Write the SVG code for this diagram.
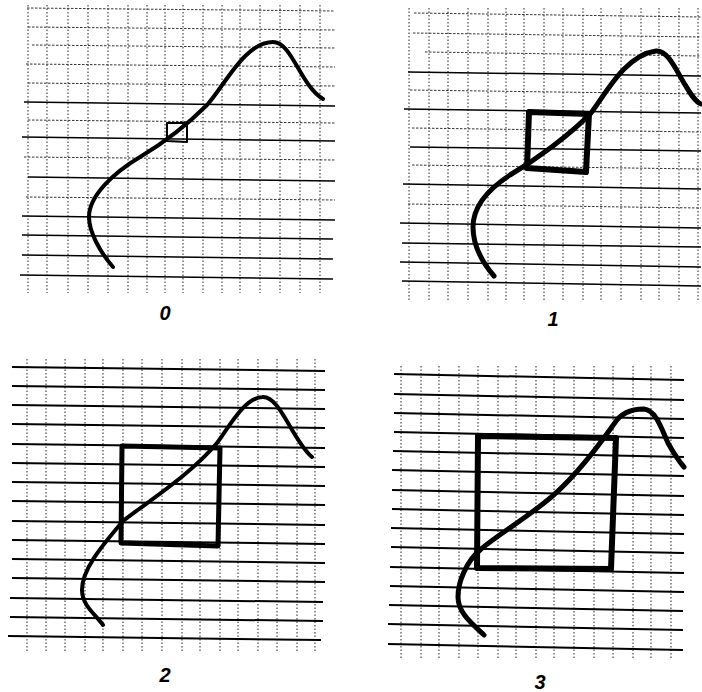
<svg xmlns="http://www.w3.org/2000/svg" width="702" height="692" viewBox="0 0 702 692">
<style>
.v{stroke:#222;stroke-width:1;stroke-dasharray:1.5 2;fill:none}
.hd{stroke:#333;stroke-width:1;stroke-dasharray:2.5 1.5;fill:none}
.h{stroke:#000;stroke-width:1.5;fill:none}
.h2{stroke:#000;stroke-width:2;fill:none}
.c{stroke:#000;fill:none;stroke-linecap:round;stroke-linejoin:round}
.sq{stroke:#000;fill:none;stroke-linejoin:round}
.lbl{font-family:"Liberation Sans",Arial,sans-serif;font-style:italic;font-weight:bold;font-size:20px;fill:#000;text-anchor:middle}
</style>
<rect width="702" height="692" fill="#fff"/>

<g id="panel0">
<path class="v" d="M28,5V293M47,5V293M68,5V293M88,5V293M108,5V293M128,5V293M147,5V293M165,5V293M183,5V293M203,5V293M222,5V293M240,5V293M260,5V293M280,5V293M300,5V293M320,5V293"/>
<path class="hd" d="M27,8L335,11M28,27L335,30M32,45L335,48M26,64L335,67M28,83L335,86M28,120L335,123M24,157L335,160M26,197L335,200"/>
<path class="h" d="M24,102L335,106M22,137L335,141M28,177L335,181M22,216L335,220M22,235L333,239M22,255L333,259M20,275L333,279"/>
<path class="c" stroke-width="4" d="M113,267C100,252 89,232 89,217C89,195 115,172 140,157C165,142 190,122 207,105C225,85 245,42 273,42C292,42 300,85 323,99"/>
<path class="sq" stroke-width="2" d="M167,123L187,123L187,142L167,141Z"/>
<text class="lbl" x="165" y="320">0</text>
</g>

<g id="panel1">
<path class="v" d="M409,8V300M429,8V300M448,8V300M468,8V300M488,8V300M506,8V300M524,8V300M544,8V300M563,8V300M583,8V300M601,8V300M621,8V300M641,8V300M659,8V300M679,8V300M698,8V300"/>
<path class="hd" d="M414,13L701,17M413,33L701,37M425,52L701,56M410,90L701,94M412,128L701,132M412,165L701,169M408,204L701,208"/>
<path class="h" d="M408,72L701,76M404,109L701,113M410,147L701,151M403,184L701,189M400,223L701,228M402,243L701,247M400,262L701,267M402,281L701,286"/>
<path class="c" stroke-width="5" d="M494,276C482,262 473,245 473,227C473,205 490,188 510,175C535,160 570,135 591,113C605,95 625,55 656,51C668,50 676,70 684,83C690,93 695,102 701,104"/>
<path class="sq" stroke-width="6" d="M529,112L589,114L586,172L527,168Z"/>
<text class="lbl" x="553" y="326">1</text>
</g>

<g id="panel2">
<path class="v" d="M27,359V653M46,359V653M65,359V653M85,359V653M103,359V653M123,359V653M142,359V653M162,359V653M182,359V653M200,359V653M220,359V653M238,359V653M258,359V653M277,359V653M297,359V653M315,359V653"/>
<path class="h2" d="M12,367L325,371M12,386L325,390M12,405L325,409M12,424L325,428M12,444L325,448M12,463L325,467M12,482L325,486M12,501L325,505M12,521L325,525M12,540L325,544M12,559L325,563M12,578L325,582M10,598L323,602M10,617L323,621M8,636L321,640"/>
<path class="c" stroke-width="4" d="M103,625C95,614 82,605 82,590C82,570 100,548 123,521C150,500 190,475 217,443C230,425 245,398 262,397C280,395 292,440 312,457"/>
<path class="sq" stroke-width="5" d="M122,446L220,448L218,546L121,543Z"/>
<text class="lbl" x="165" y="682">2</text>
</g>

<g id="panel3">
<path class="v" d="M401,366V659M421,366V659M439,366V659M459,366V659M478,366V659M498,366V659M516,366V659M536,366V659M554,366V659M574,366V659M594,366V659M613,366V659M633,366V659M651,366V659M671,366V659"/>
<path class="h2" d="M394,374L684,380M394,394L684,400M394,413L684,419M394,432L684,438M393,451L684,457M392,470L684,476M392,490L684,496M392,509L684,515M391,528L684,534M391,547L684,553M390,567L684,573M390,586L684,592M389,605L683,611M388,624L683,630M388,644L683,650"/>
<path class="c" stroke-width="5" d="M484,635C470,622 458,612 458,597C458,582 466,562 480,550C495,537 520,522 544,503C565,487 590,458 614,424C620,414 630,409 644,409C656,410 662,430 668,443C673,452 678,460 684,467"/>
<path class="sq" stroke-width="6" d="M478,436L616,438L611,569L477,568Z"/>
<text class="lbl" x="540" y="689">3</text>
</g>
</svg>
